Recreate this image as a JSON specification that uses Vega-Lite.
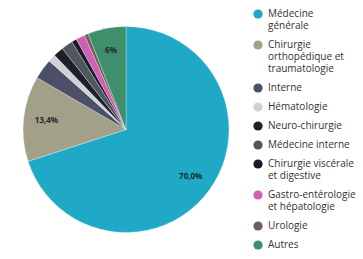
{
  "$schema": "https://vega.github.io/schema/vega-lite/v6.json",
  "width": 252,
  "height": 259,
  "padding": 0,
  "autosize": {"type": "pad"},
  "background": "white",
  "config": {"view": {"stroke": null}, "font": "Open Sans"},
  "data": {"values": [
    {"specialite": "Médecine générale", "part": 70.0, "ordre": 1, "etiquette": "70,0%"},
    {"specialite": "Chirurgie orthopédique et traumatologie", "part": 13.4, "ordre": 2, "etiquette": "13,4%"},
    {"specialite": "Interne", "part": 3.2, "ordre": 3, "etiquette": ""},
    {"specialite": "Hématologie", "part": 1.2, "ordre": 4, "etiquette": ""},
    {"specialite": "Neuro-chirurgie", "part": 1.6, "ordre": 5, "etiquette": ""},
    {"specialite": "Médecine interne", "part": 1.8, "ordre": 6, "etiquette": ""},
    {"specialite": "Chirurgie viscérale et digestive", "part": 0.8, "ordre": 7, "etiquette": ""},
    {"specialite": "Gastro-entérologie et hépatologie", "part": 1.4, "ordre": 8, "etiquette": ""},
    {"specialite": "Urologie", "part": 0.6, "ordre": 9, "etiquette": ""},
    {"specialite": "Autres", "part": 6.0, "ordre": 10, "etiquette": "6%"}
  ]},
  "encoding": {
    "theta": {"field": "part", "type": "quantitative", "stack": true},
    "order": {"field": "ordre", "type": "quantitative"}
  },
  "layer": [
    {
      "mark": {"type": "arc", "outerRadius": 103, "stroke": "white", "strokeWidth": 0.3},
      "encoding": {
        "color": {
          "field": "specialite",
          "type": "nominal",
          "scale": {
            "domain": ["Médecine générale", "Chirurgie orthopédique et traumatologie", "Interne", "Hématologie", "Neuro-chirurgie", "Médecine interne", "Chirurgie viscérale et digestive", "Gastro-entérologie et hépatologie", "Urologie", "Autres"],
            "range": ["#1fa9c6", "#a3a08a", "#4b5068", "#cfd0d8", "#1f1f27", "#4d575c", "#191a2a", "#d25db5", "#6e5f58", "#3f8f6d"]
          },
          "legend": {
            "orient": "none",
            "legendX": 253,
            "legendY": 9,
            "title": null,
            "symbolType": "circle",
            "symbolSize": 85,
            "symbolStrokeWidth": 0,
            "labelFont": "Open Sans",
            "labelFontSize": 10,
            "labelColor": "#333333",
            "labelOffset": 5,
            "labelLimit": 140,
            "rowPadding": 9,
            "labelExpr": "datum.label == 'Médecine générale' ? ['Médecine', 'générale'] : datum.label == 'Chirurgie orthopédique et traumatologie' ? ['Chirurgie', 'orthopédique et', 'traumatologie'] : datum.label == 'Chirurgie viscérale et digestive' ? ['Chirurgie viscérale', 'et digestive'] : datum.label == 'Gastro-entérologie et hépatologie' ? ['Gastro-entérologie', 'et hépatologie'] : datum.label"
          }
        }
      }
    },
    {
      "mark": {"type": "text", "radius": 80, "font": "Open Sans", "fontSize": 8, "fontWeight": "bold", "color": "#1e2a2a"},
      "encoding": {
        "text": {"field": "etiquette", "type": "nominal"}
      }
    }
  ]
}
